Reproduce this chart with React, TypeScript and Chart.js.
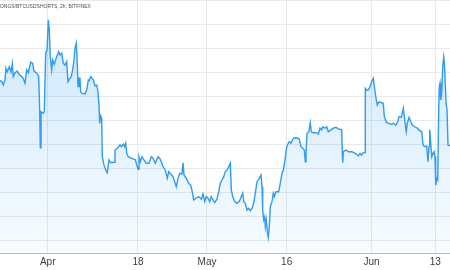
import React, { useEffect, useRef } from "react";
import { Chart, registerables } from "chart.js";

Chart.register(...registerables);

const TITLE = "LONGS/BTCUSDSHORTS, 2h, BITFINEX";

// days relative to April 1
const tickDays = [0, 17, 30, 45, 61, 73];
const tickLabels = ["Apr", "18", "May", "16", "Jun", "13"];
const yGridValues = [0, 1, 2, 3, 4, 5, 6, 7, 8, 9, 10];

const days = [
  -9.17, -8.98, -8.66, -8.36, -8.04, -7.85, -7.61, -7.23, -6.91, -6.67, -6.48, -6.16, -5.73, -5.35, -4.9, -4.6,
  -4.27, -3.95, -3.65, -3.2, -2.82, -2.58, -2.07, -1.69, -1.51, -1.39, -1.26, -0.83, -0.64, -0.38, -0.13, 0,
  0.11, 0.3, 0.49, 0.75, 0.94, 1.24, 1.69, 2.07, 2.32, 2.64, 2.94, 3.26,
  3.58, 3.82, 4.2, 4.44, 4.71, 4.95, 5.14, 5.39, 5.57, 5.71, 5.89, 6.08, 6.21, 6.52, 7.02, 7.34, 7.65, 7.83,
  8.1, 8.59, 8.91, 9.23, 9.47, 9.66, 9.79, 9.98, 10.17, 10.28, 10.6, 10.92, 11.22, 11.54, 11.86, 12.49, 12.67,
  13.11, 13.62, 13.86, 14.24, 14.5, 14.69, 14.88, 15.18,
  15.74, 16.5, 17.01, 17.19, 17.44, 17.76, 18.14, 18.57, 19.08, 19.51, 19.83, 20.26, 20.77, 21.09, 21.39, 21.71,
  22.15, 22.52, 22.79, 23.16, 23.6, 23.92, 24.22, 24.54, 24.86, 25.29, 25.48, 25.67, 26.1, 26.55, 26.93, 27.23,
  27.5, 27.93, 28.44, 28.93, 29.25, 29.57, 29.87, 30.19, 30.51, 30.81, 31.13, 31.45, 31.88, 32.2, 32.5, 32.82,
  33.15, 33.45, 33.77, 34.09, 34.39, 34.58, 34.84, 35.22, 35.65, 36.08, 36.46, 36.72, 36.91, 37.21, 37.53, 37.85,
  38.15, 38.47, 38.79, 39.1, 39.42,
  39.85, 40.17, 40.36, 40.49, 40.68, 40.87, 40.98, 41.17, 41.36, 41.54, 41.73, 41.92, 42.24, 42.49, 42.67, 42.99,
  43.5, 43.8, 44.12, 44.37, 44.69, 45.01, 45.31, 45.5, 45.82, 46.25, 46.63, 47.08, 47.38, 47.7, 48.02, 48.32,
  48.51, 48.64, 48.83, 49.15, 49.45, 49.64, 50.02, 50.53, 50.96, 51.28,
  51.6, 51.79, 52.22, 52.54, 52.84, 53.35, 53.79, 54.29, 54.73, 55.37, 55.48, 55.56, 55.67, 56.18, 56.61, 57.25,
  57.68, 58.06, 58.49, 58.81, 59.13, 59.44, 59.76, 59.81, 60.08, 60.38, 60.7, 61.02, 61.32, 61.51, 61.83, 62.07,
  62.39, 62.9, 63.2,
  63.39, 63.84, 64.27, 64.71, 65.08, 65.54, 65.84, 66.16, 66.59, 66.97, 67.23, 67.53, 67.72, 68.04, 68.36, 68.66,
  69.11, 69.6, 70.06, 70.43, 70.68, 71.0, 71.37, 71.62, 71.81, 71.94, 72.13, 72.32, 72.56, 72.75, 72.94, 73.07,
  73.26, 73.45, 73.63, 73.75, 73.88, 74.01, 74.2, 74.39, 74.58, 74.69, 74.82, 75.01, 75.2, 75.39, 75.76, 76.14,
];

const ratio = [
  6.71, 6.68, 6.64, 6.5, 6.71, 7.2, 7.05, 7.26, 7.05, 7.4, 6.85, 7.01, 7.08, 6.92, 6.85, 6.78,
  6.57, 7.13, 7.01, 7.45, 7.4, 7.08, 6.99, 6.85, 5.46, 3.88, 5.39, 5.32, 5.39, 7.82, 7.96, 8.58,
  9.21, 8.79, 7.68, 7.13, 7.54, 7.36, 7.68, 7.89, 7.75, 7.82, 7.4, 7.33,
  7.47, 6.64, 6.78, 6.85, 7.13, 7.54, 8.03, 8.24, 7.4, 6.43, 6.78, 6.78, 6.22, 6.15, 6.13, 6.29, 6.71, 6.68,
  6.85, 6.71, 6.46, 6.5, 6.22, 5.67, 4.9, 5.21, 5.11, 3.51, 3.17, 2.96, 2.85, 3.38, 3.26, 3.28, 3.79,
  3.86, 4.0, 3.93, 4.04, 3.93, 4.07, 3.65, 3.51,
  3.45, 3.38, 2.99, 3.51, 3.3, 3.51, 3.38, 3.24, 3.24, 3.51, 3.45, 3.24, 3.51, 3.45, 3.3, 3.1,
  2.96, 2.61, 2.89, 2.79, 2.68, 2.47, 2.26, 2.61, 2.82, 2.79, 3.26, 2.75, 2.61, 2.4, 2.33, 2.05,
  1.71, 1.78, 1.85, 1.74, 1.96, 1.64, 1.85, 1.78, 1.64, 1.85, 1.71, 1.6, 1.74, 2.05, 2.4, 2.54,
  2.68, 2.89, 2.96, 3.1, 3.24, 2.13, 1.85, 1.64, 1.57, 1.64, 1.85, 1.99, 1.64, 1.57, 1.29, 1.36,
  1.26, 1.36, 1.57, 1.99, 2.47,
  2.61, 2.75, 2.26, 1.29, 0.88, 1.01, 0.6, 0.88, 0.39, 0.15, 0.6, 1.43, 1.64, 1.99, 1.85, 2.05,
  2.05, 2.4, 2.82, 2.96, 3.38, 3.93, 4.07, 4.14, 4.07, 4.28, 4.3, 4.28, 4.24, 3.93, 3.86, 3.79,
  3.3, 3.65, 4.49, 4.55, 4.93, 4.55, 4.51, 4.51, 4.46, 4.7,
  4.63, 4.76, 4.7, 4.76, 4.55, 4.63, 4.7, 4.74, 4.67, 4.63, 3.65, 3.26, 3.72, 3.79, 3.72, 3.72,
  3.68, 3.63, 3.54, 3.65, 3.58, 3.68, 3.68, 6.36, 6.29, 6.29, 6.43, 6.64, 6.78, 6.43, 5.95, 5.67,
  5.8, 5.76, 5.74,
  5.18, 4.93, 4.9, 4.86, 4.9, 4.83, 4.93, 5.18, 5.15, 5.53, 5.04, 4.55, 4.9, 5.15, 4.97, 4.83,
  4.76, 4.7, 4.6, 4.55, 4.0, 3.93, 3.96, 3.3, 3.93, 4.63, 4.07, 3.51, 3.65, 3.72, 3.51, 2.33,
  2.61, 2.54, 5.46, 6.43, 6.57, 5.88, 6.15, 7.26, 7.68, 7.47, 6.85, 5.74, 5.46, 4.0, 3.96, 3.96,
];

const titlePlugin = {
  id: "symbolTitle",
  afterDraw(chart: any) {
    const ctx = chart.ctx;
    ctx.save();
    ctx.font = '5px "Liberation Sans", Arial, sans-serif';
    ctx.fillStyle = "#505050";
    ctx.textBaseline = "middle";
    ctx.textAlign = "left";
    ctx.fillText(TITLE, -2.9, 6.5);
    ctx.restore();
  },
};

export default function App() {
  const ref = useRef<HTMLCanvasElement | null>(null);

  useEffect(() => {
    if (!ref.current) return;
    const points = days.map((d, i) => ({ x: d, y: ratio[i] }));
    const chart = new Chart(ref.current, {
      type: "line",
      data: {
        datasets: [
          {
            data: points,
            borderColor: "#2e9bf5",
            borderWidth: 1.4,
            pointRadius: 0,
            tension: 0,
            fill: "start",
            backgroundColor: (c: any) => {
              const area = c.chart.chartArea;
              if (!area) return "rgba(33,150,243,0.15)";
              const g = c.chart.ctx.createLinearGradient(0, area.top, 0, area.bottom);
              g.addColorStop(0, "rgba(33,150,243,0.24)");
              g.addColorStop(1, "rgba(33,150,243,0.03)");
              return g;
            },
          },
        ],
      },
      options: {
        animation: false,
        responsive: true,
        maintainAspectRatio: false,
        layout: { padding: 0 },
        plugins: { legend: { display: false }, tooltip: { enabled: false }, title: { display: false } },
        scales: {
          x: {
            type: "linear",
            min: -8.98,
            max: 75.76,
            afterBuildTicks: (scale: any) => {
              scale.ticks = tickDays.map((v) => ({ value: v }));
            },
            afterFit: (scale: any) => {
              scale.height = 17;
            },
            ticks: {
              autoSkip: false,
              maxRotation: 0,
              padding: 3,
              color: "#3c3c3c",
              font: { family: '"Liberation Sans", Arial, sans-serif', size: 10 },
              callback: (v: any) => {
                const i = tickDays.indexOf(Number(v));
                return i >= 0 ? tickLabels[i] : "";
              },
            },
            grid: { color: "#e9e9e9", drawTicks: false, lineWidth: 1 },
            border: { display: true, color: "#b8bcc4", width: 1 },
          },
          y: {
            type: "linear",
            min: -0.5,
            max: 10.04,
            afterBuildTicks: (scale: any) => {
              scale.ticks = yGridValues.map((v) => ({ value: v }));
            },
            afterFit: (scale: any) => {
              scale.width = 0;
            },
            ticks: { display: false },
            grid: { color: "#e9e9e9", drawTicks: false, lineWidth: 1 },
            border: { display: false },
          },
        },
      },
      plugins: [titlePlugin],
    });
    return () => chart.destroy();
  }, []);

  return (
    <div style={{ position: "fixed", left: 0, top: 0, width: 450, height: 270, background: "#ffffff" }}>
      <canvas ref={ref} />
    </div>
  );
}
